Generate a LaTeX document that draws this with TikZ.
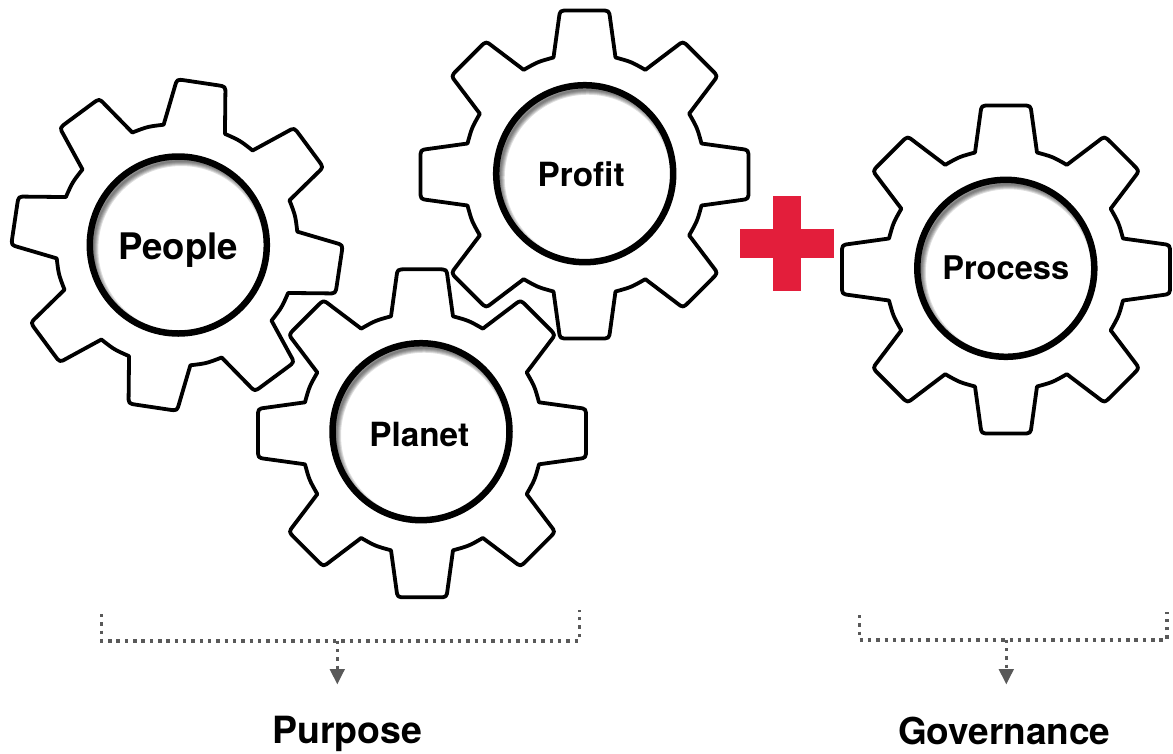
\documentclass[tikz,border=0pt]{standalone}
\usepackage{fontspec}
\setmainfont{TeX Gyre Heros}
\usetikzlibrary{arrows.meta}
\definecolor{plusred}{HTML}{E31E3B}
\definecolor{dotgray}{HTML}{595959}
\tikzset{
  gearline/.style={draw=black,fill=white,line width=3.8pt,line join=round},
  hub/.style={circle,draw=black,line width=6.5pt,minimum size=177pt,inner sep=0pt,outer sep=0pt},
  dotline/.style={draw=dotgray,line width=3.6pt,dash pattern=on 3.4pt off 4.93pt},
  tiparrow/.style={fill=dotgray,draw=none},
  lbl/.style={anchor=base,inner sep=0pt,outer sep=0pt,font=\bfseries}
}
\newcommand{\gearshape}[3]{%
  \begin{scope}[shift={(#1,#2)},rotate=#3]
    \path[gearline] ([rotate=0]-31,117)
    \foreach \a in {0,45,...,315}{
      \pgfextra{\pgfmathsetmacro{\nx}{\a+45}\pgfmathsetmacro{\mx}{\a+22.5}}
      -- ([rotate=\a]-25.6,156)
      .. controls ([rotate=\a]-24.6,164) .. ([rotate=\a]-16,164)
      -- ([rotate=\a]16,164)
      .. controls ([rotate=\a]24.6,164) .. ([rotate=\a]25.6,156)
      -- ([rotate=\a]31,117)
      .. controls ([rotate=\mx]0,122) .. ([rotate=\nx]-31,117)
    } -- cycle;
  \end{scope}}
\newcommand{\hubshadow}[2]{%
  \begin{scope}
    \clip (#1,#2) circle (88pt);
    \foreach \w in {1,2,...,5}{
      \draw[black,opacity=0.13,line width=2*\w pt] ({#1+3},{#2+4}) circle (88pt);
    }
  \end{scope}}
\newcommand{\lbltext}[2]{\fontsize{#1}{#1}\selectfont\bfseries #2}
\begin{document}
\begin{tikzpicture}[x=1pt,y=-1pt]
\useasboundingbox (0,0) rectangle (1173,753);
\fill[white] (0,0) rectangle (1173,753);

\gearshape{177}{245}{-8.5}
\gearshape{584.5}{174.5}{0}
\gearshape{422}{433.3}{0}
\gearshape{1006}{269.5}{0}

\hubshadow{178.3}{245}
\hubshadow{584.7}{173.7}
\hubshadow{421}{431.7}
\hubshadow{1005.8}{268.3}
\node[hub] (peoplehub) at (178.3,245) {};
\node[hub] (profithub) at (584.7,173.7) {};
\node[hub] (planethub) at (421,431.7) {};
\node[hub] (processhub) at (1005.8,268.3) {};

\node[lbl] (people) at (178.3,259) {\lbltext{36.6pt}{People}};
\node[lbl] (profit) at (581.2,186.7) {\lbltext{33.3pt}{Profit}};
\node[lbl] (planet) at (419.3,446.7) {\lbltext{33.3pt}{Planet}};
\node[lbl] (process) at (1005.7,279) {\lbltext{32.6pt}{Process}};

\fill[plusred] (773.3,196) rectangle (800.7,291.3);
\fill[plusred] (740,229.3) rectangle (834,258);

\coordinate (pl) at (101.5,614);
\coordinate (plb) at (101.5,640.7);
\coordinate (prb) at (579.3,640.7);
\coordinate (pr) at (579.3,610);
\coordinate (pm) at (337.3,640.7);
\coordinate (pa) at (337.3,669);
\coordinate (gl) at (859.3,615);
\coordinate (glb) at (859.3,639.7);
\coordinate (grb) at (1166.7,639.7);
\coordinate (gr) at (1166.7,611.7);
\coordinate (gm) at (1006.3,639.7);
\coordinate (ga) at (1006.3,669);

\path[dotline] (pl) -- (plb) -- (prb) -- (pr);
\path[dotline] (pm) -- (pa);
\path[dotline] (gl) -- (glb) -- (grb) -- (gr);
\path[dotline] (gm) -- (ga);
\fill[tiparrow] (329.6,669) -- (345,669) -- (337.3,684.3) -- cycle;
\fill[tiparrow] (998.6,669) -- (1014,669) -- (1006.3,684.3) -- cycle;

\node[lbl] (purpose) at (347.3,743) {\lbltext{37.5pt}{Purpose}};
\node[lbl] (governance) at (1004.2,744) {\lbltext{37pt}{Governance}};
\end{tikzpicture}
\end{document}
